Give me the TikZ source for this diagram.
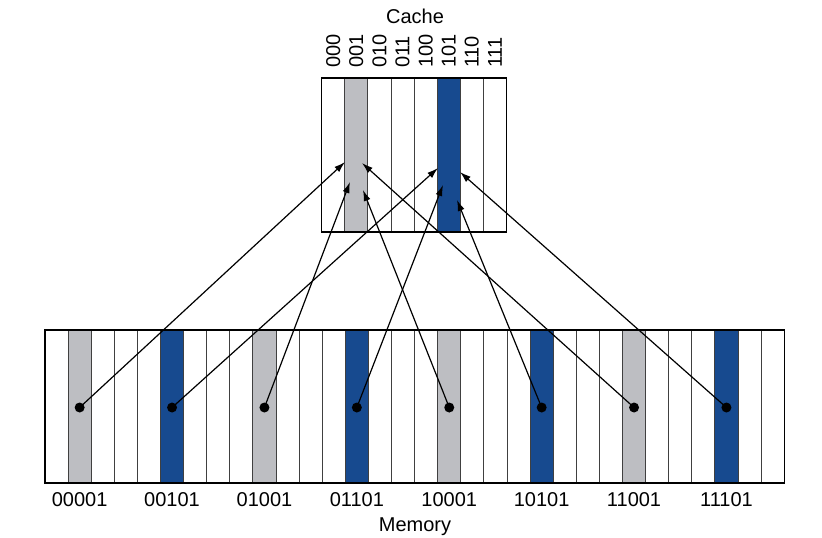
\documentclass[tikz,border=0pt]{standalone}
\usepackage{fontspec}
\setmainfont{Liberation Sans}
\usetikzlibrary{arrows.meta}
\definecolor{cblue}{HTML}{174A8F}
\definecolor{cgray}{HTML}{BDBEC2}

\begin{document}
\begin{tikzpicture}[x=1pt, y=-1pt,
  font=\fontsize{20}{23}\selectfont,
  cell/.style={draw=black!75, line width=1pt},
  frame/.style={draw=black, line width=1.2pt},
  dot/.style={circle, fill=black, inner sep=0pt, minimum size=10pt},
  link/.style={->, >={Latex[length=11pt, width=7pt]}, line width=1.2pt}]
  \useasboundingbox (0,0) rectangle (822,538);
  % memory
  \foreach \i in {1,9,17,25} \fill[cgray] ({45+\i*23.1},330) rectangle ({45+(\i+1)*23.1},483);
  \foreach \i in {5,13,21,29} \fill[cblue] ({45+\i*23.1},330) rectangle ({45+(\i+1)*23.1},483);
  \foreach \i in {1,...,31} \draw[cell] ({45+\i*23.1},330) -- ({45+\i*23.1},483);
  \draw[frame] (45,330) rectangle (784.2,483);
  \foreach \i/\t in {1/00001,5/00101,9/01001,13/01101,17/10001,21/10101,25/11001,29/11101}
    \node (lab\t) at ({45+(\i+0.5)*23.1},500) {\t};
  \node (memory) at (415,527) {Memory};
  % cache
  \fill[cgray] ({321.7+23.1},78) rectangle ({321.7+2*23.1},232);
  \fill[cblue] ({321.7+5*23.1},78) rectangle ({321.7+6*23.1},232);
  \foreach \i in {1,...,7} \draw[cell] ({321.7+\i*23.1},78) -- ({321.7+\i*23.1},232);
  \draw[frame] (321.7,78) rectangle (506.5,232);
  \foreach \i/\t in {0/000,1/001,2/010,3/011,4/100,5/101,6/110,7/111}
    \node[rotate=90, anchor=west, inner sep=0pt] (c\t) at ({321.7+(\i+0.5)*23.1},68) {\t};
  \node (cache) at (415,16) {Cache};
  % dots
  \foreach \i/\t in {1/00001,5/00101,9/01001,13/01101,17/10001,21/10101,25/11001,29/11101}
    \node[dot] (m\t) at ({45+(\i+0.5)*23.1},407.5) {};
  % arrow ends
  \coordinate (e00001) at (345,162);
  \coordinate (e01001) at (350,182);
  \coordinate (e10001) at (363,190);
  \coordinate (e11001) at (362,163);
  \coordinate (e00101) at (438,168);
  \coordinate (e01101) at (443,185);
  \coordinate (e10101) at (457,200);
  \coordinate (e11101) at (460,172);
  \foreach \t in {00001,00101,01001,01101,10001,10101,11001,11101}
    \draw[link] (m\t.center) -- (e\t);
\end{tikzpicture}
\end{document}
